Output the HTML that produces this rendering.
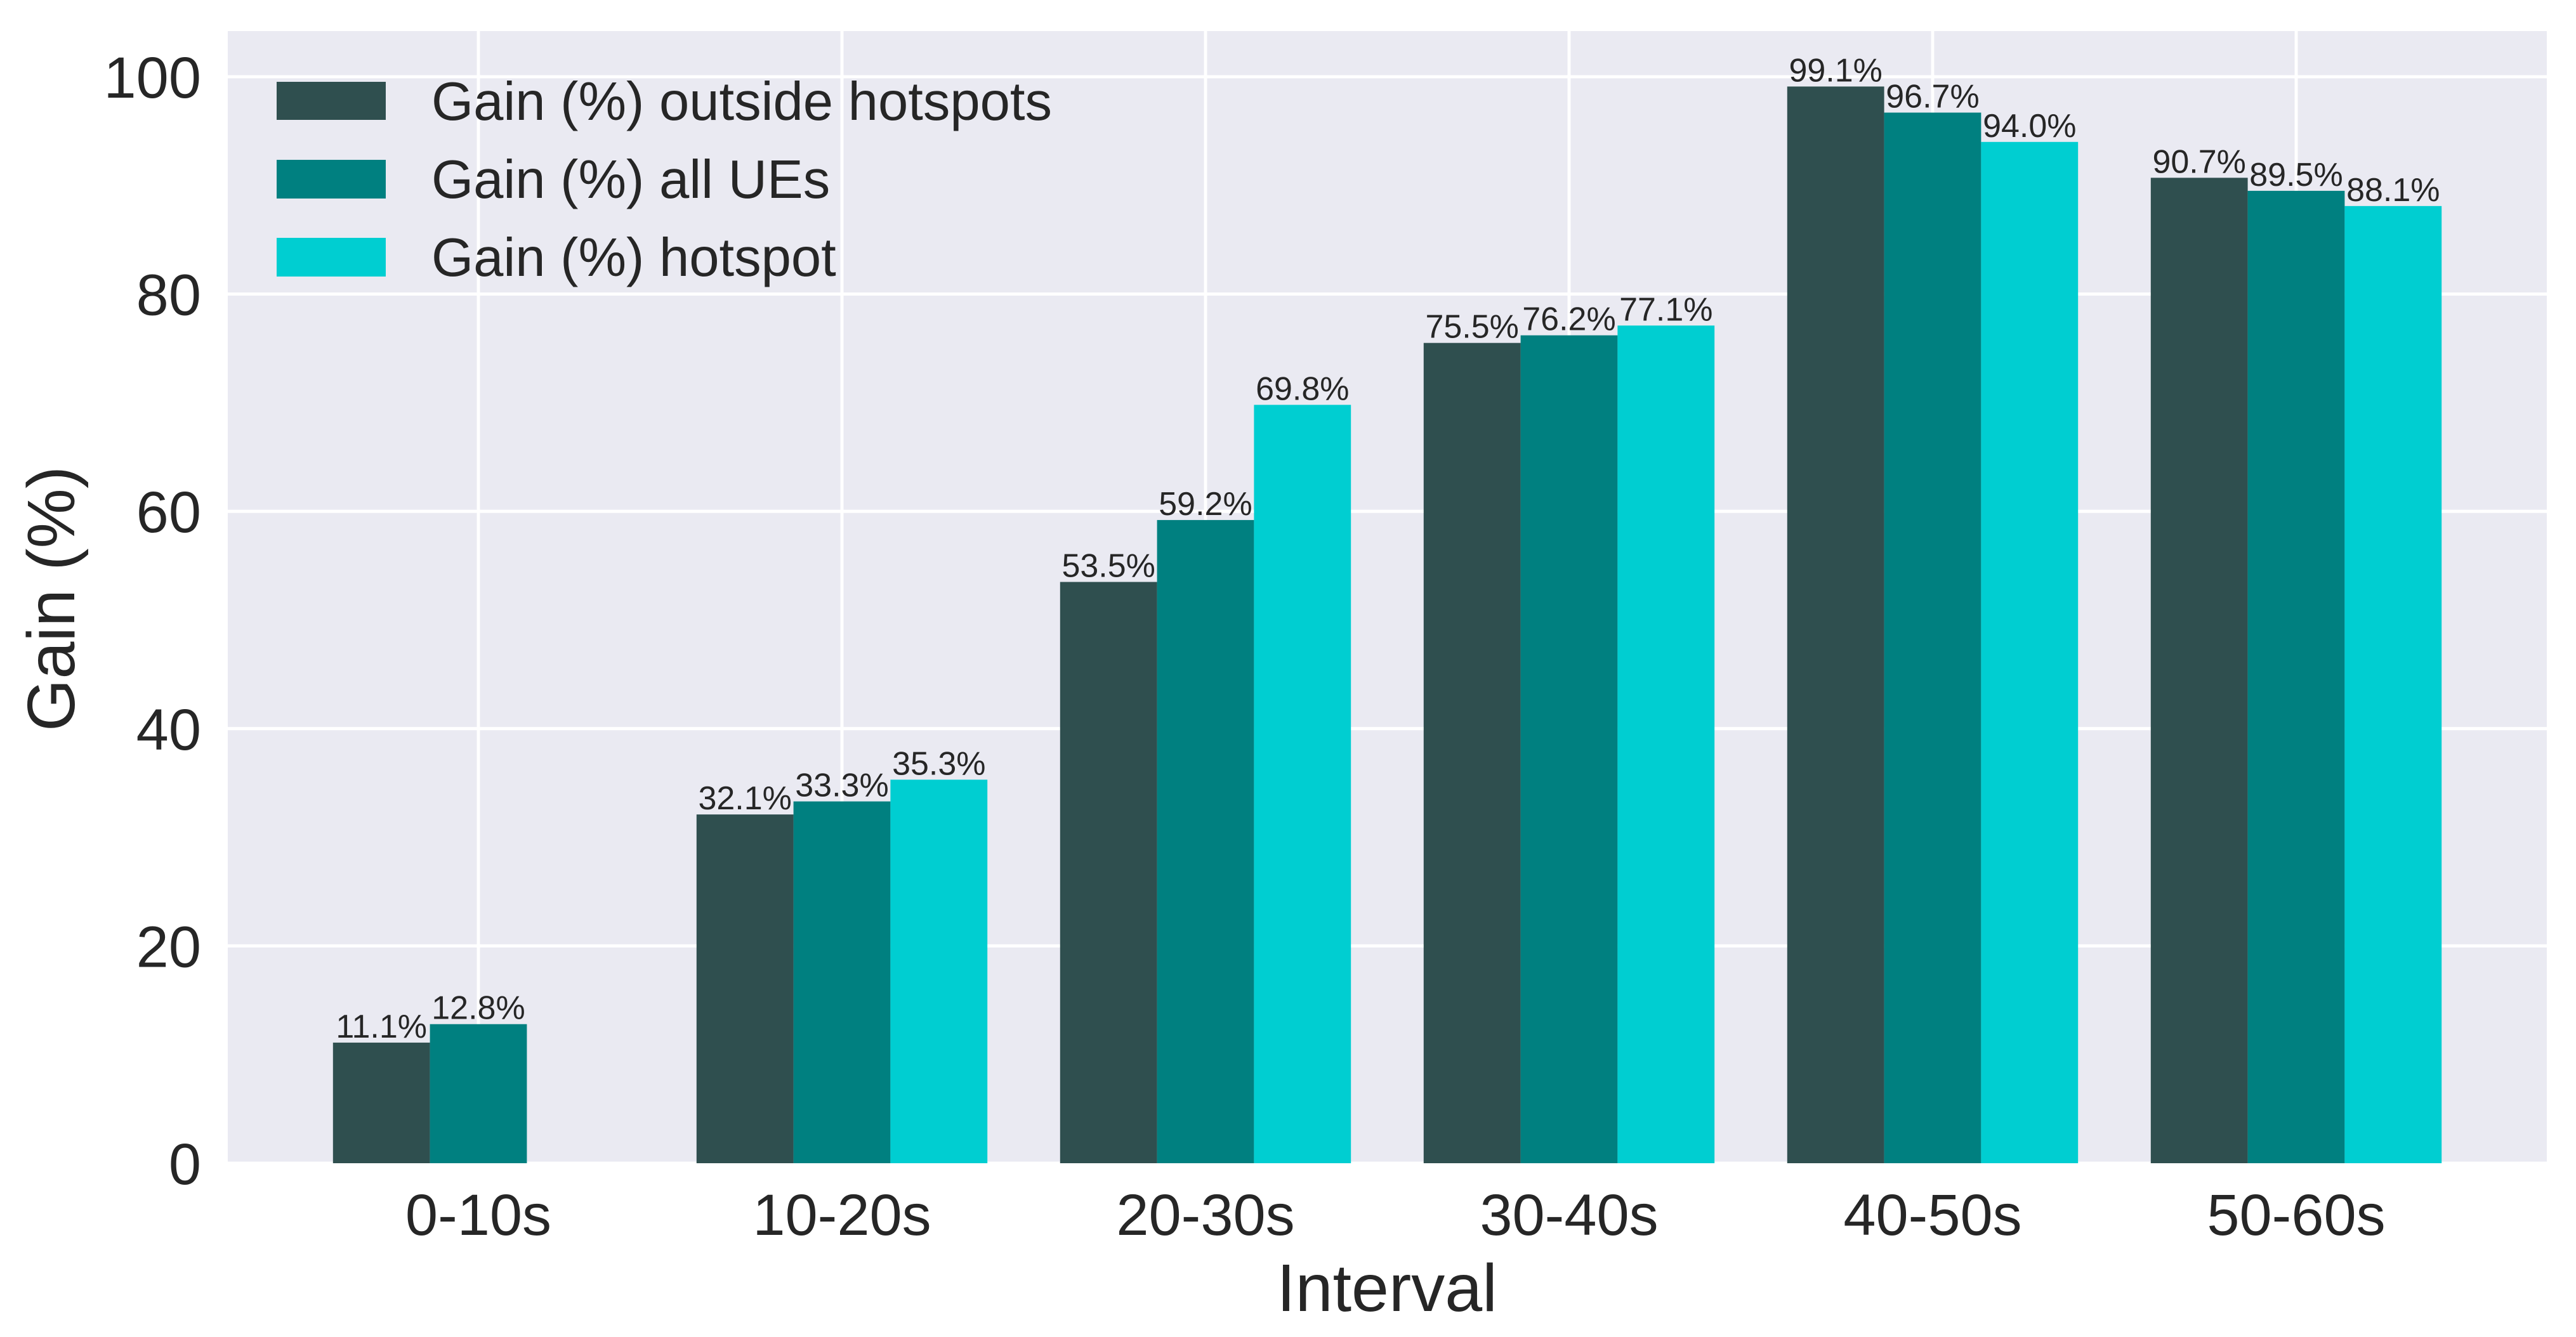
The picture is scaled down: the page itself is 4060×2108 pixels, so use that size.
<!DOCTYPE html>
<html><head><meta charset="utf-8"><style>
html,body{margin:0;padding:0;background:#fff;}
svg{display:block;font-family:"Liberation Sans",Arial,sans-serif;}
</style></head><body>
<svg id="chart" width="4060" height="2108" viewBox="0 0 4060 2108">
<rect x="359" y="49" width="3655" height="1785" fill="#eaeaf2"/>
<g id="grid"></g><g id="bars"></g><g id="labels"></g><g id="axes"></g>
<g font-size="85" fill="#262626">
<rect x="436" y="129" width="172" height="60" fill="#2f4f4f"/>
<text x="680" y="189">Gain (%) outside hotspots</text>
<rect x="436" y="252" width="172" height="61" fill="#008080"/>
<text x="680" y="312">Gain (%) all UEs</text>
<rect x="436" y="375" width="172" height="61" fill="#00ced1"/>
<text x="680" y="435">Gain (%) hotspot</text>
</g>
<text x="2186" y="2067" font-size="106" fill="#262626" text-anchor="middle">Interval</text>
<text transform="translate(117,944) rotate(-90)" font-size="106" fill="#262626" text-anchor="middle">Gain (%)</text>
</svg>
<script>
const categories = ["0-10s","10-20s","20-30s","30-40s","40-50s","50-60s"];
const outsideHotspots = [11.1, 32.1, 53.5, 75.5, 99.1, 90.7];
const allUEs = [12.8, 33.3, 59.2, 76.2, 96.7, 89.5];
const hotspot = [null, 35.3, 69.8, 77.1, 94.0, 88.1];
const yTicks = [0, 20, 40, 60, 80, 100];

const NS = "http://www.w3.org/2000/svg";
const X0 = 754, STEP = 573, Y0 = 1834, PXU = 17.13;
const yS = v => Y0 - v * PXU;
const xS = i => X0 + i * STEP;
const bw = STEP * 0.8 / 3;
function mk(tag, attrs, parent, txt){const e=document.createElementNS(NS,tag);for(const k in attrs)e.setAttribute(k,attrs[k]);if(txt!==undefined)e.textContent=txt;document.getElementById(parent).appendChild(e);return e;}

yTicks.forEach(t=>{
  const l = mk("line",{x1:359,x2:4014,y1:yS(t),y2:yS(t),stroke:"#fff","stroke-width":5},"grid");
  
  
  const tx = mk("text",{x:317,y:yS(t)+33,"font-size":92,fill:"#262626","text-anchor":"end"},"axes",String(t));
  
  
});
categories.forEach((c,i)=>{
  const l = mk("line",{x1:xS(i),x2:xS(i),y1:49,y2:1834,stroke:"#fff","stroke-width":5},"grid");
  
  
  const tx = mk("text",{x:xS(i),y:1947,"font-size":92,fill:"#262626","text-anchor":"middle"},"axes",c);
  
  
});
const series = [[outsideHotspots,"#2f4f4f","outside"],[allUEs,"#008080","all"],[hotspot,"#00ced1","hotspot"]];
series.forEach(([vals,col,nm],s)=>{
  vals.forEach((v,i)=>{
    if(v===null) return;
    const x = xS(i) + (s-1)*bw - bw/2;
    const r = mk("rect",{x:x,y:yS(v),width:bw,height:yS(0)-yS(v),fill:col},"bars");
    
    
    const t = mk("text",{x:x+bw/2,y:yS(v)-8,"font-size":52,fill:"#262626","text-anchor":"middle"},"labels",v.toFixed(1)+"%");
    
    
  });
});
</script>
</body></html>
